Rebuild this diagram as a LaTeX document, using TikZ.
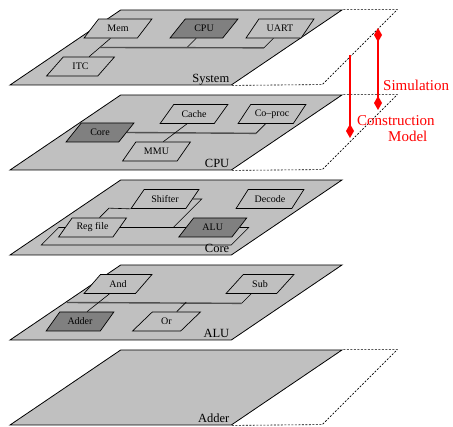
\documentclass[tikz,border=0pt]{standalone}
\usepackage{fontspec}
\setmainfont{Liberation Serif}
\usetikzlibrary{arrows.meta,shapes.geometric}
\definecolor{planegray}{HTML}{C0C0C0}
\definecolor{blockdark}{HTML}{808080}
\definecolor{busgray}{HTML}{505050}
\tikzset{
  plane/.style={
      trapezium,
      trapezium left angle=45,
      trapezium right angle=135,
      trapezium stretches=true,
      minimum height=75pt,
      minimum width=332pt,
      inner sep=1pt,
      line width=0.8pt,
      draw=black,
      fill=planegray
  },
  block/.style={
      trapezium,
      trapezium left angle=45,
      trapezium right angle=135,
      trapezium stretches=true,
      minimum height=19pt,
      minimum width=68pt,
      inner sep=1pt,
      line width=0.7pt,
      draw=black,
      fill=planegray,
      font=\fontsize{10}{12}\selectfont
  },
  darkblock/.style={block,fill=blockdark},
  planelabel/.style={anchor=base east,inner sep=0pt,xshift=-2pt,yshift=3pt,font=\fontsize{12.5}{14}\selectfont},
  redlabel/.style={anchor=base west,inner sep=0pt,text=red,font=\fontsize{15}{17}\selectfont},
  wire/.style={line width=0.6pt,draw=black},
  bus/.style={line width=1.4pt,draw=busgray},
  ghost/.style={line width=0.6pt,draw=black,dash pattern=on 2pt off 1.5pt},
  simarrow/.style={line width=1.5pt,draw=red}
}
\begin{document}
\begin{tikzpicture}[x=1pt,y=-1pt]
    \useasboundingbox (0,0) rectangle (453,427);

    \node[plane] (system) at (176,47.5) {};
    \node[planelabel] at (system.bottom right corner) {System};
    \draw[ghost] (system.top right corner) -- ++(54,0) -- ++(-75,75) -- (system.bottom right corner);
    \node[block] (mem) at (118,28.5) {Mem};
    \node[darkblock] (cpu) at (204,28.5) {CPU};
    \node[block] (uart) at (280,28.5) {UART};
    \node[block] (itc) at (80.5,66.5) {ITC};
    \draw[wire] (mem.bottom side) -- coordinate[midway] (membus) (itc.top side);
    \draw[wire] (cpu.bottom side) -- ++(-9.5,9.5);
    \draw[wire] (uart.bottom side) -- ++(-9.5,9.5) coordinate (uartbus);
    \draw[bus] (membus) -- (uartbus);

    \node[plane] (cpuplane) at (176,132.5) {};
    \node[planelabel] at (cpuplane.bottom right corner) {CPU};
    \draw[ghost] (cpuplane.top right corner) -- ++(54,0) -- ++(-75,75) -- (cpuplane.bottom right corner);
    \node[block] (cache) at (194,114) {Cache};
    \node[block] (coproc) at (272,114) {Co--proc};
    \node[darkblock] (core) at (100,132.5) {Core};
    \node[block] (mmu) at (156.5,151.5) {MMU};
    \draw[wire] (coproc.bottom side) -- ++(-9.5,9.5) coordinate (coprocbus);
    \draw[bus] (core.right side) -- (coprocbus);
    \draw[wire] (cache.bottom side) -- (mmu.top side);

    \node[plane] (coreplane) at (176,217.5) {};
    \node[planelabel] at (coreplane.bottom right corner) {Core};
    \node[block] (shifter) at (165,199) {Shifter};
    \node[block] (decode) at (270,199) {Decode};
    \node[block] (regfile) at (92.5,227.5) {Reg file};
    \node[darkblock] (alu) at (212.75,227.5) {ALU};
    \draw[wire] (regfile.top side) -- ++(9.5,-9.5) -- (shifter.bottom left corner);
    \draw[wire] (shifter.right side) -- ++(9,0) -- ++(-28.5,28.5);
    \draw[wire] (regfile.right side) -- (alu.left side);
    \draw[wire] (alu.right side) -- ++(9,0) -- ++(-17.5,17.5) -- ++(-190,0) -- ++(17.5,-17.5) -- (regfile.left side);

    \node[plane] (aluplane) at (176,302.5) {};
    \node[planelabel] at (aluplane.bottom right corner) {ALU};
    \node[block] (andgate) at (118,284) {And};
    \node[block] (subunit) at (260,284) {Sub};
    \node[darkblock] (adder) at (80,321.5) {Adder};
    \node[block] (orgate) at (166.5,321.5) {Or};
    \coordinate (alubus) at (67,302.5);
    \draw[wire] (subunit.bottom side) -- ++(-9.5,9.5) coordinate (subbus);
    \draw[bus] (alubus) -- (subbus);
    \draw[wire] (andgate.bottom side) -- (adder.top side);
    \draw[wire] (orgate.top side) -- ++(9.5,-9.5);

    \node[plane] (adderplane) at (176,387.5) {};
    \node[planelabel] at (adderplane.bottom right corner) {Adder};
    \draw[ghost] (adderplane.top right corner) -- ++(54,0) -- ++(-75,75) -- (adderplane.bottom right corner);

    \coordinate (simtop) at (378,28);
    \coordinate (simbot) at (378,110);
    \coordinate (constop) at (350,55);
    \coordinate (consbot) at (350,138);
    \draw[simarrow,{Diamond[length=14pt,width=8pt]}-{Diamond[length=14pt,width=8pt]}] (simtop) -- (simbot);
    \draw[simarrow,-{Diamond[length=14pt,width=8pt]}] (constop) -- (consbot);
    \node[redlabel] (simlabel) at (383,91) {Simulation};
    \node[redlabel,align=left] (conslabel) at (357,142) {Construction\\[-1pt]\hspace*{31pt}Model};
\end{tikzpicture}
\end{document}
